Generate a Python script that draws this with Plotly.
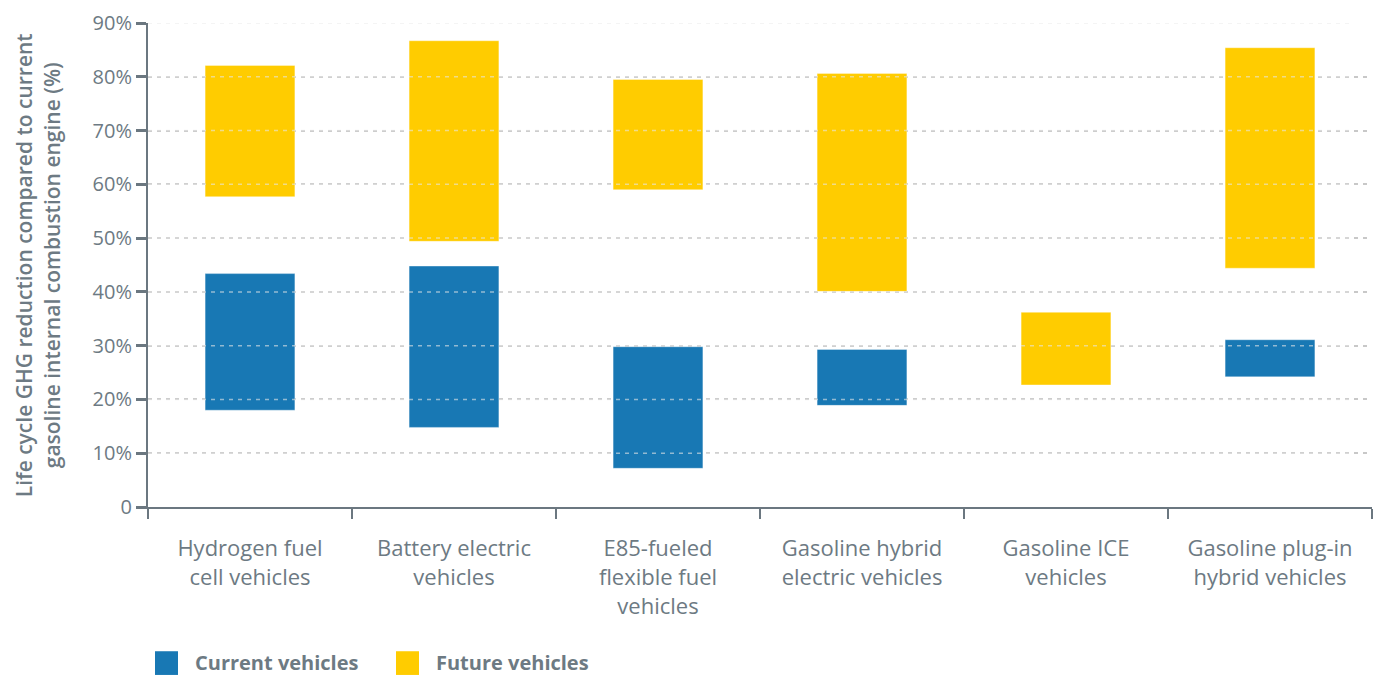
import plotly.graph_objects as go

categories = ["Hydrogen fuel<br>cell vehicles", "Battery electric<br>vehicles",
              "E85-fueled<br>flexible fuel<br>vehicles", "Gasoline hybrid<br>electric vehicles",
              "Gasoline ICE<br>vehicles", "Gasoline plug-in<br>hybrid vehicles"]
current_low = [18.0, 14.8, 7.2, 18.9, None, 24.2]
current_high = [43.4, 44.8, 29.8, 29.3, None, 31.1]
future_low = [57.7, 49.4, 59.0, 40.1, 22.7, 44.4]
future_high = [82.1, 86.7, 79.5, 80.6, 36.2, 85.4]
tick_vals = [0, 10, 20, 30, 40, 50, 60, 70, 80, 90]
tick_text = ["0", "10%", "20%", "30%", "40%", "50%", "60%", "70%", "80%", "90%"]
series_names = ["Current vehicles", "Future vehicles"]

BLUE = "#1878b4"
YELLOW = "#ffcc00"
AXIS = "#6b7780"
TEXT = "#6d7a83"
FONT = "Open Sans"


def span(lo, hi):
    return [None if (a is None or b is None) else b - a for a, b in zip(lo, hi)]


fig = go.Figure()
fig.add_trace(go.Bar(x=categories, base=current_low, y=span(current_low, current_high),
                     name=series_names[0], marker=dict(color=BLUE, line=dict(color="rgba(255,255,255,0.35)", width=1)),
                     width=0.44, showlegend=False))
fig.add_trace(go.Bar(x=categories, base=future_low, y=span(future_low, future_high),
                     name=series_names[1], marker=dict(color=YELLOW, line=dict(color="rgba(255,255,255,0.35)", width=1)),
                     width=0.44, showlegend=False))

# faint dashed grid over bars
for v in tick_vals[1:]:
    fig.add_shape(type="line", xref="paper", yref="y", x0=0, x1=0.984, y0=v, y1=v,
                  line=dict(color="rgba(230,230,230,0.6)", width=1.5, dash="4px,5px"), layer="above")

# custom legend
legend_items = [(0.0057, BLUE, series_names[0]), (0.2026, YELLOW, series_names[1])]
for x0, col, name in legend_items:
    fig.add_shape(type="rect", xref="paper", yref="paper", x0=x0, x1=x0 + 0.0188,
                  y0=-0.347, y1=-0.298, fillcolor=col, line=dict(width=0))
    fig.add_annotation(xref="paper", yref="paper", x=x0 + 0.031, y=-0.322, text="<b>" + name + "</b>",
                       showarrow=False, xanchor="left", yanchor="middle",
                       font=dict(family=FONT, size=20, color=TEXT))

fig.add_annotation(xref="paper", yref="paper", x=-0.0905, y=0.5,
                   text="Life cycle GHG reduction compared to current<br>gasoline internal combustion engine (%)",
                   textangle=-90, showarrow=False, xanchor="center", yanchor="middle",
                   font=dict(family=FONT, size=21, color=TEXT, weight=600))

fig.update_layout(
    width=1374, height=667,
    margin=dict(l=140, r=10, t=15, b=168, autoexpand=False),
    barmode="overlay",
    plot_bgcolor="white", paper_bgcolor="white",
    font=dict(family=FONT, color=TEXT),
    xaxis=dict(tickson="boundaries", ticks="outside", ticklen=10, tickwidth=2, tickcolor=AXIS,
               showline=True, linecolor=AXIS, linewidth=2, showgrid=False, ticklabelstandoff=21,
               automargin=False,
               tickfont=dict(size=22, color=TEXT), fixedrange=True),
    yaxis=dict(range=[0, 90], tickvals=tick_vals, ticktext=tick_text, ticks="outside", ticklen=10,
               tickwidth=3, tickcolor=AXIS, showline=True, linecolor=AXIS, linewidth=2,
               showgrid=True, gridcolor="#c8c8c8", griddash="4px,5px", gridwidth=1.5,
               ticklabeloverflow="allow", automargin=False,
               zeroline=False, tickfont=dict(size=20, color=TEXT)),
)

fig.write_html("out.html")
